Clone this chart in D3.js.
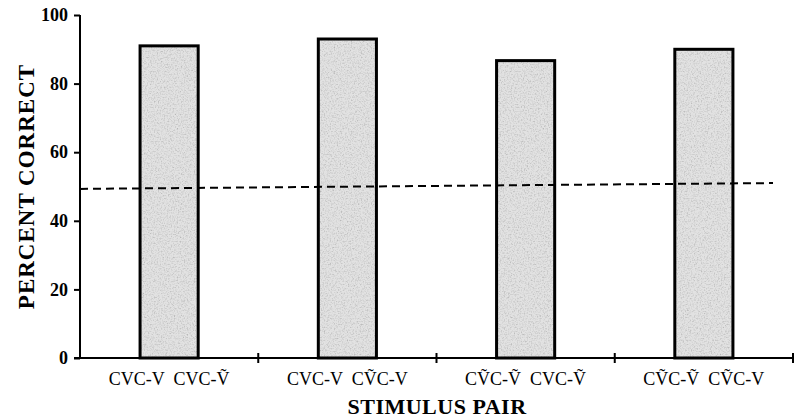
<!DOCTYPE html>
<html>
<head>
<meta charset="utf-8">
<script src="https://cdnjs.cloudflare.com/ajax/libs/d3/7.8.5/d3.min.js"></script>
<style>
  body { margin: 0; background: #fff; }
  svg text { font-family: "Liberation Serif", "DejaVu Serif", serif; fill: #000; }
</style>
</head>
<body>
<svg id="chart" width="795" height="419"></svg>
<script>
// data
var pairs = ["CVC-V  CVC-\u1E7C", "CVC-V  C\u1E7CC-V", "C\u1E7CC-\u1E7C  CVC-\u1E7C", "C\u1E7CC-\u1E7C  C\u1E7CC-V"];
var percentCorrect = [91, 93, 86.7, 90];
var chanceLine = [49.3, 51];   // dashed reference, left end / right end
var yTicks = [0, 20, 40, 60, 80, 100];

var svg = d3.select("#chart");
var m = { left: 80, right: 2, top: 15, bottom: 61 };
var W = 795, H = 419;

var x = d3.scaleBand().domain(pairs).range([m.left, W - m.right]).padding(0);
var y = d3.scaleLinear().domain([0, 100]).range([H - m.bottom, m.top]);
var barW = x.bandwidth() * 0.326;

// stipple texture for the bars
var defs = svg.append("defs");
var f = defs.append("filter").attr("id", "grain").attr("x", 0).attr("y", 0).attr("width", 1).attr("height", 1);
f.append("feTurbulence").attr("type", "fractalNoise").attr("baseFrequency", 0.7).attr("numOctaves", 3).attr("seed", 5).attr("result", "n");
f.append("feColorMatrix").attr("in", "n").attr("type", "matrix")
  .attr("values", "0.5 0.5 0 0 0.45  0.5 0.5 0 0 0.45  0.5 0.5 0 0 0.45  0 0 0 0 1").attr("result", "g");
f.append("feBlend").attr("in", "g").attr("in2", "SourceGraphic").attr("mode", "multiply").attr("result", "b");
f.append("feComposite").attr("in", "b").attr("in2", "SourceGraphic").attr("operator", "in");

// bars
var bars = svg.append("g");
bars.selectAll("rect.fill").data(percentCorrect).enter().append("rect")
  .attr("class", "fill")
  .attr("x", function(d, i) { return x(pairs[i]) + (x.bandwidth() - barW) / 2; })
  .attr("y", function(d) { return y(d); })
  .attr("width", barW)
  .attr("height", function(d) { return y(0) - y(d); })
  .attr("fill", "#e2e2e2")
  .attr("filter", "url(#grain)");
bars.selectAll("rect.edge").data(percentCorrect).enter().append("rect")
  .attr("class", "edge")
  .attr("x", function(d, i) { return x(pairs[i]) + (x.bandwidth() - barW) / 2; })
  .attr("y", function(d) { return y(d); })
  .attr("width", barW)
  .attr("height", function(d) { return y(0) - y(d); })
  .attr("fill", "none")
  .attr("stroke", "#000")
  .attr("stroke-width", 3);

// dashed chance line
svg.append("line")
  .attr("x1", m.left).attr("x2", 773)
  .attr("y1", y(chanceLine[0])).attr("y2", y(chanceLine[1]))
  .attr("stroke", "#000").attr("stroke-width", 2)
  .attr("stroke-dasharray", "8,5");

// y axis
var yAxis = svg.append("g").attr("transform", "translate(" + m.left + ",0)")
  .call(d3.axisLeft(y).tickValues(yTicks).tickSize(6).tickPadding(6).tickFormat(d3.format("d")));
yAxis.select(".domain").attr("stroke-width", 2).attr("d", "M0," + y(100) + "V" + y(0));
yAxis.selectAll(".tick line").attr("stroke-width", 2);
yAxis.selectAll(".tick text")
  .style("font-size", "18px").style("font-weight", "bold")
  .style("font-family", "Liberation Serif, serif");

// x axis: ticks on band boundaries
var xAxis = svg.append("g").attr("transform", "translate(0," + y(0) + ")");
xAxis.append("line").attr("x1", m.left - 6).attr("x2", W - m.right)
  .attr("stroke", "#000").attr("stroke-width", 2);
xAxis.selectAll("line.tk").data(pairs).enter().append("line")
  .attr("class", "tk")
  .attr("x1", function(d) { return x(d) + x.bandwidth(); })
  .attr("x2", function(d) { return x(d) + x.bandwidth(); })
  .attr("y1", -5).attr("y2", 5)
  .attr("stroke", "#000").attr("stroke-width", 2);
xAxis.selectAll("text").data(pairs).enter().append("text")
  .attr("x", function(d) { return x(d) + x.bandwidth() / 2; })
  .attr("y", 27)
  .attr("text-anchor", "middle")
  .style("font-size", "18px")
  .style("white-space", "pre")
  .attr("xml:space", "preserve")
  .text(function(d) { return d; });

// titles
svg.append("text")
  .attr("transform", "translate(34," + y(50) + ") rotate(-90)")
  .attr("text-anchor", "middle")
  .style("font-size", "23px").style("font-weight", "bold")
  .style("letter-spacing", "1px")
  .text("PERCENT CORRECT");
svg.append("text")
  .attr("x", 437).attr("y", 414)
  .attr("text-anchor", "middle")
  .style("font-size", "22px").style("font-weight", "bold")
  .style("letter-spacing", "0.5px")
  .text("STIMULUS PAIR");
</script>
</body>
</html>
